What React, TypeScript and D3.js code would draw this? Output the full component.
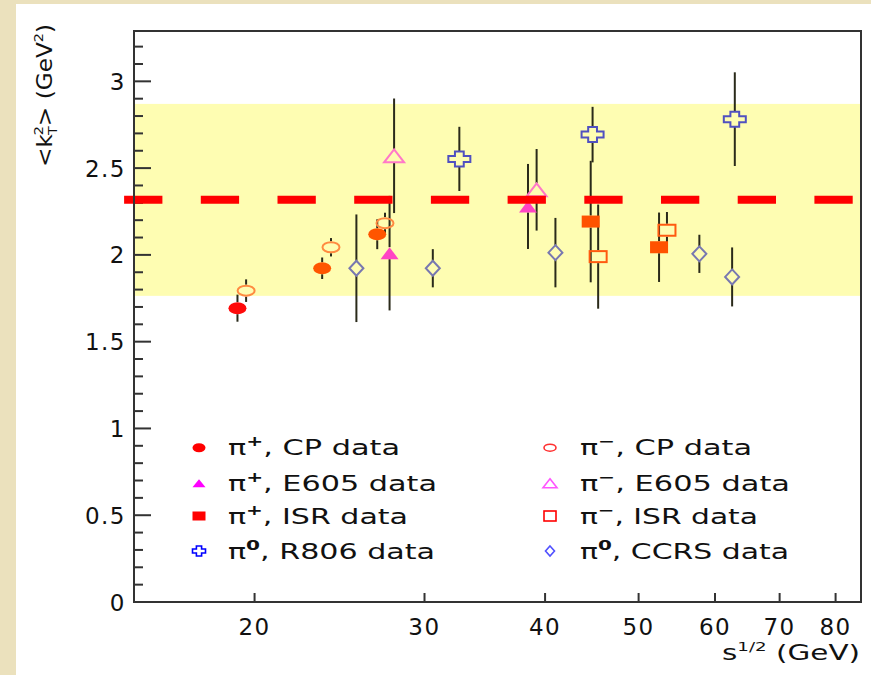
import React from "react";
import * as d3 from "d3";

// ---------- data ----------
const xTickValues = [20, 30, 40, 50, 60, 70, 80];
const yMajorTicks = [0, 0.5, 1, 1.5, 2, 2.5, 3];
const yTickLabels = ["0", "0.5", "1", "1.5", "2", "2.5", "3"];

const piPlusCP_x = [19.2, 23.5, 26.8];
const piPlusCP_y = [1.693, 1.923, 2.119];
const piPlusCP_err = [0.078, 0.062, 0.086];

const piMinusCP_x = [19.6, 24.0, 27.3];
const piMinusCP_y = [1.794, 2.044, 2.183];
const piMinusCP_err = [0.065, 0.053, 0.06];

const piPlusE605_x = [27.6, 38.4];
const piPlusE605_y = [2.01, 2.279];
const piPlusE605_err = [0.33, 0.245];

const piMinusE605_x = [27.9, 39.2];
const piMinusE605_y = [2.571, 2.375];
const piMinusE605_err = [0.33, 0.235];

const piPlusISR_x = [44.6, 52.5];
const piPlusISR_y = [2.192, 2.044];
const piPlusISR_err = [0.35, 0.2];

const piMinusISR_x = [45.4, 53.5];
const piMinusISR_y = [1.99, 2.142];
const piMinusISR_err = [0.3, 0.105];

const pi0R806_x = [32.6, 44.8, 62.9];
const pi0R806_y = [2.553, 2.693, 2.782];
const pi0R806_err = [0.185, 0.16, 0.27];

const pi0CCRS_x = [25.5, 30.6, 41.0, 57.8, 62.5];
const pi0CCRS_y = [1.923, 1.923, 2.013, 2.006, 1.873];
const pi0CCRS_err = [0.31, 0.11, 0.2, 0.11, 0.17];

const meanKt2 = 2.317;
const bandHalfWidth = 0.553;
const lineRange = [14.65, 84.0];

const legendSup = ["+", "+", "+", "0", "\u2212", "\u2212", "\u2212", "0"];
const legendRest = [", CP data", ", E605 data", ", ISR data", ", R806 data", ", CP data", ", E605 data", ", ISR data", ", CCRS data"];

// ---------- layout / style ----------
const W = 871;
const H = 675;
const L = 134, R = 861, T = 31, B = 602;
const FONT = "DejaVu Sans, Verdana, sans-serif";

type Shape = "circle" | "triangle" | "square" | "cross" | "diamond";
interface Style { shape: Shape; filled: boolean; color: string; firstColor?: string; legendColor: string; w: number; h: number; lw: number; lh: number; }

const series = [
  { key: "ppCP", x: piPlusCP_x, y: piPlusCP_y, e: piPlusCP_err },
  { key: "ppE605", x: piPlusE605_x, y: piPlusE605_y, e: piPlusE605_err },
  { key: "ppISR", x: piPlusISR_x, y: piPlusISR_y, e: piPlusISR_err },
  { key: "p0R806", x: pi0R806_x, y: pi0R806_y, e: pi0R806_err },
  { key: "pmCP", x: piMinusCP_x, y: piMinusCP_y, e: piMinusCP_err },
  { key: "pmE605", x: piMinusE605_x, y: piMinusE605_y, e: piMinusE605_err },
  { key: "pmISR", x: piMinusISR_x, y: piMinusISR_y, e: piMinusISR_err },
  { key: "p0CCRS", x: pi0CCRS_x, y: pi0CCRS_y, e: pi0CCRS_err },
];

const styles: Record<string, Style> = {
  ppCP: { shape: "circle", filled: true, color: "#ff5500", firstColor: "#ff0a0a", legendColor: "#ff0000", w: 18, h: 12, lw: 13, lh: 9 },
  ppE605: { shape: "triangle", filled: true, color: "#ff44c4", legendColor: "#ff00ff", w: 18, h: 12, lw: 13, lh: 8 },
  ppISR: { shape: "square", filled: true, color: "#ff5200", legendColor: "#ff0000", w: 18, h: 12, lw: 13, lh: 9 },
  p0R806: { shape: "cross", filled: false, color: "#5050c0", legendColor: "#0000ff", w: 22, h: 15, lw: 13, lh: 10 },
  pmCP: { shape: "circle", filled: false, color: "#ff8a40", legendColor: "#ff3030", w: 19, h: 12, lw: 14, lh: 9 },
  pmE605: { shape: "triangle", filled: false, color: "#ff78c8", legendColor: "#ff55ff", w: 20, h: 13, lw: 14, lh: 9 },
  pmISR: { shape: "square", filled: false, color: "#ff5a10", legendColor: "#ff0000", w: 19, h: 13, lw: 14, lh: 12 },
  p0CCRS: { shape: "diamond", filled: false, color: "#7878b0", legendColor: "#5050ff", w: 14, h: 15, lw: 9, lh: 10 },
};

function Marker({ shape, filled, color, cx, cy, w, h, sw = 2 }: { shape: Shape; filled: boolean; color: string; cx: number; cy: number; w: number; h: number; sw?: number }) {
  const fill = filled ? color : "none";
  const stroke = filled ? "none" : color;
  if (shape === "circle") {
    return <ellipse cx={cx} cy={cy} rx={filled ? w / 2 : w / 2 - 1} ry={filled ? h / 2 : h / 2 - 1} fill={fill} stroke={stroke} strokeWidth={sw} />;
  }
  if (shape === "square") {
    return <rect x={cx - w / 2 + (filled ? 0 : 1)} y={cy - h / 2 + (filled ? 0 : 1)} width={filled ? w : w - 2} height={filled ? h : h - 2} fill={fill} stroke={stroke} strokeWidth={sw} />;
  }
  let d = "";
  if (shape === "triangle") {
    d = `M${cx},${cy - h / 2}L${cx + w / 2},${cy + h / 2}L${cx - w / 2},${cy + h / 2}Z`;
  } else if (shape === "diamond") {
    d = `M${cx},${cy - h / 2}L${cx + w / 2},${cy}L${cx},${cy + h / 2}L${cx - w / 2},${cy}Z`;
  } else {
    const a = w * 0.2, b = h * 0.2;
    d = `M${cx - a},${cy - h / 2}H${cx + a}V${cy - b}H${cx + w / 2}V${cy + b}H${cx + a}V${cy + h / 2}H${cx - a}V${cy + b}H${cx - w / 2}V${cy - b}H${cx - a}Z`;
  }
  return <path d={d} fill={fill} stroke={stroke} strokeWidth={sw} strokeLinejoin="miter" />;
}

export default function App() {
  const x = d3.scaleLog().domain([15, 85]).range([L, R]);
  const y = d3.scaleLinear().domain([0, 3.29]).range([B, T]);
  const yMinor = d3.range(0, 3.25, 0.1).map((v) => Math.round(v * 10) / 10);

  const legendRowsY = [447.7, 483.3, 516, 551];
  const legendColMarkerX = [199, 550];
  const legendColTextX = [228, 580];
  const legendTextLen = [172, 209, 180, 207, 172, 210, 178, 209];

  return (
    <svg width={W} height={H} style={{ position: "absolute", left: 0, top: 0 }} fontFamily={FONT}>
      <rect x={0} y={0} width={W} height={H} fill="#ebe1bd" />
      <rect x={16} y={4} width={W - 16} height={H - 4} fill="#ffffff" />

      {/* band */}
      <rect x={L} y={y(meanKt2 + bandHalfWidth)} width={R - L} height={y(meanKt2 - bandHalfWidth) - y(meanKt2 + bandHalfWidth)} fill="#fefdb2" />

      {/* y ticks */}
      {yMinor.map((v) => {
        const major = Math.abs(v * 2 - Math.round(v * 2)) < 1e-6;
        return <line key={"ym" + v} x1={L} x2={L + (major ? 17 : 9)} y1={y(v)} y2={y(v)} stroke="#333" strokeWidth={2} />;
      })}
      {yMajorTicks.map((v, i) => (
        <text key={"yl" + v} x={126} y={y(v) + 8.5} textAnchor="end" fontSize={23} fill="#111" letterSpacing={1.5}>{yTickLabels[i]}</text>
      ))}

      {/* x ticks */}
      {xTickValues.map((v) => (
        <g key={"xt" + v}>
          <line x1={x(v)} x2={x(v)} y1={B} y2={B - 9} stroke="#333" strokeWidth={2} />
          <text x={x(v)} y={635} textAnchor="middle" fontSize={23} fill="#111" letterSpacing={1.5}>{String(v)}</text>
        </g>
      ))}

      {/* error bars */}
      {series.map((s) => {
        const st = styles[s.key];
        return s.x.map((xv, i) => {
          const cx = x(xv), cy = y(s.y[i]);
          const top = y(s.y[i] + s.e[i]), bot = y(s.y[i] - s.e[i]);
          const gap = st.h / 2;
          return (
            <g key={s.key + "e" + i}>
              {top < cy - gap && <line x1={cx} x2={cx} y1={top} y2={cy - gap} stroke="#2a2a1a" strokeWidth={2} />}
              {bot > cy + gap && <line x1={cx} x2={cx} y1={cy + gap} y2={bot} stroke="#2a2a1a" strokeWidth={2} />}
            </g>
          );
        });
      })}

      {/* markers */}
      {series.map((s) => {
        const st = styles[s.key];
        return s.x.map((xv, i) => (
          <Marker key={s.key + "m" + i} shape={st.shape} filled={st.filled} color={i === 0 && st.firstColor ? st.firstColor : st.color} cx={x(xv)} cy={y(s.y[i])} w={st.w} h={st.h} />
        ));
      })}

      {/* mean line */}
      <line x1={x(lineRange[0])} x2={x(lineRange[1])} y1={y(meanKt2)} y2={y(meanKt2)} stroke="#ff0000" strokeWidth={8} strokeDasharray="38.3 38.4" />

      {/* frame */}
      <rect x={L} y={T} width={R - L} height={B - T} fill="none" stroke="#333" strokeWidth={2} />

      {/* legend */}
      {series.map((s, i) => {
        const st = styles[s.key];
        const col = i < 4 ? 0 : 1;
        const row = i % 4;
        const cy = legendRowsY[row];
        return (
          <g key={"lg" + s.key}>
            <Marker shape={st.shape} filled={st.filled} color={st.legendColor} cx={legendColMarkerX[col]} cy={cy} w={st.lw} h={st.lh} sw={1.6} />
            <text x={legendColTextX[col]} y={cy + 7.5} fontSize={21} fill="#111" textLength={legendTextLen[i]} lengthAdjust="spacingAndGlyphs">
              <tspan>π</tspan>
              <tspan dy={-9} fontSize={14} fontWeight="bold">{legendSup[i]}</tspan>
              <tspan dy={9}>{legendRest[i]}</tspan>
            </text>
          </g>
        );
      })}

      {/* x title */}
      <text x={722} y={660} fontSize={21} fill="#111" textLength={138} lengthAdjust="spacingAndGlyphs">
        <tspan>s</tspan>
        <tspan dy={-9} fontSize={13}>1/2</tspan>
        <tspan dy={9}> (GeV)</tspan>
      </text>

      {/* y title */}
      <text transform="translate(52,167) rotate(-90)" x={0} y={0} fontSize={21} fill="#111" textLength={143} lengthAdjust="spacingAndGlyphs">
        <tspan>{"<k"}</tspan>
        <tspan dy={-9} fontSize={13} dx={-1}>2</tspan>
        <tspan dy={14} dx={-8} fontSize={13}>T</tspan>
        <tspan dy={-5}>{"> (GeV"}</tspan>
        <tspan dy={-9} fontSize={13}>2</tspan>
        <tspan dy={9}>)</tspan>
      </text>
    </svg>
  );
}
